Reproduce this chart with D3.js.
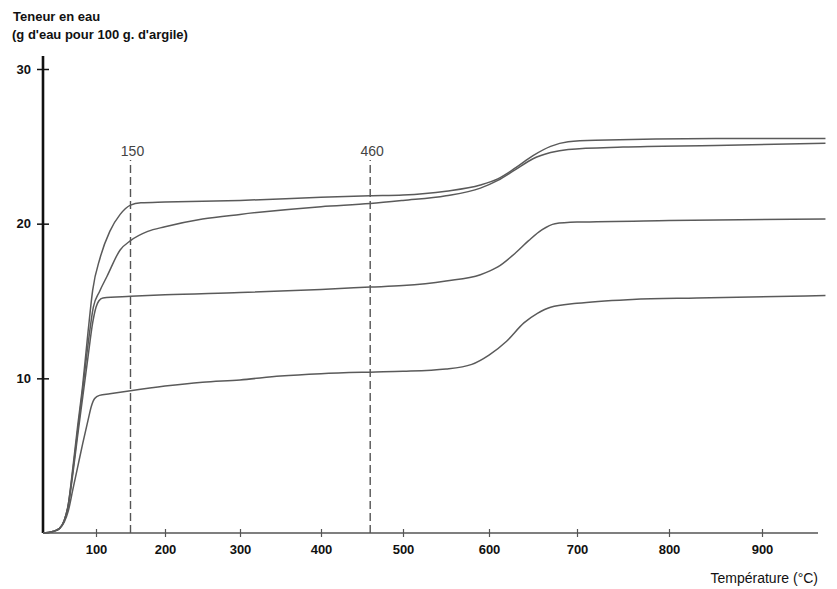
<!DOCTYPE html>
<html>
<head>
<meta charset="utf-8">
<script src="https://cdn.jsdelivr.net/npm/d3@7"></script>
<style>
  body { margin: 0; background: #fff; }
  text { font-family: "Liberation Sans", Arial, sans-serif; fill: #111; }
</style>
</head>
<body>
<div id="chart"></div>
<script>
// temperature (°C) / water content (g per 100 g clay)
const curve1 = [[20,0],[35,0.1],[45,0.3],[52,0.8],[58,1.8],[65,4.2],[72,6.8],[80,9.6],[88,13],[95,15.7],[106,17.8],[120,19.5],[135,20.6],[150,21.2],[165,21.35],[200,21.4],[300,21.5],[400,21.7],[460,21.8],[500,21.85],[550,22.1],[590,22.5],[610,22.9],[630,23.6],[650,24.4],[670,25.0],[690,25.3],[720,25.4],[850,25.5],[968,25.5]];
const curve2 = [[20,0],[35,0.1],[45,0.3],[52,0.8],[58,1.8],[65,4.0],[72,6.5],[80,9.3],[88,12.2],[96,14.6],[105,15.6],[116,16.6],[135,18.3],[150,18.9],[175,19.5],[200,19.8],[250,20.3],[300,20.6],[400,21.1],[460,21.3],[500,21.5],[550,21.8],[590,22.3],[610,22.8],[630,23.5],[650,24.2],[670,24.6],[690,24.8],[750,24.95],[850,25.05],[968,25.2]];
const curve3 = [[20,0],[35,0.1],[45,0.3],[52,0.8],[58,1.7],[65,3.8],[72,6.2],[80,8.8],[88,11.4],[95,13.6],[100,14.6],[104,15.0],[110,15.2],[150,15.3],[200,15.4],[300,15.55],[400,15.75],[460,15.9],[500,16.0],[550,16.3],[590,16.7],[610,17.2],[630,18.1],[645,18.9],[660,19.6],[675,20.0],[700,20.1],[800,20.2],[968,20.3]];
const curve4 = [[20,0],[35,0.1],[45,0.3],[52,0.7],[58,1.4],[65,2.8],[72,4.2],[80,5.8],[88,7.3],[93,8.2],[98,8.7],[105,8.9],[120,9.0],[150,9.2],[200,9.5],[250,9.75],[300,9.9],[350,10.15],[400,10.3],[460,10.4],[500,10.45],[550,10.6],[580,10.9],[600,11.5],[620,12.4],[640,13.6],[655,14.2],[670,14.6],[700,14.85],[760,15.1],[830,15.2],[968,15.35]];

const xTicks = [100,200,300,400,500,600,700,800,900];
const yTicks = [10,20,30];
const markers = [150, 460];

const W = 837, H = 589;

const svg = d3.select("#chart").append("svg")
  .attr("width", W).attr("height", H);

// the scanned temperature axis is not evenly spaced, so a polylinear scale
var x = d3.scaleLinear()
  .domain([20,100,200,300,400,500,600,700,800,900,960])
  .range([43,96,165,240,321,403,489,577,669,762,818]);

var y = d3.scaleLinear()
  .domain([0,30])
  .range([533,69]);

// axes
const yAxis = svg.append("g")
  .attr("transform", "translate(43,0)")
  .call(d3.axisLeft(y).tickValues(yTicks).tickSize(6).tickFormat(d3.format("d")));
yAxis.select(".domain").remove();
yAxis.selectAll(".tick line").attr("x1", 6).attr("x2", -6)
  .attr("stroke", "#111").attr("stroke-width", 1.5);
yAxis.selectAll(".tick text").attr("x", -12).attr("dy", "0.32em")
  .style("font-size", "13px").style("font-weight", "bold");

const xAxis = svg.append("g")
  .attr("transform", "translate(0,533)")
  .call(d3.axisBottom(x).tickValues(xTicks).tickSize(4).tickFormat(d3.format("d")));
xAxis.select(".domain").remove();
xAxis.selectAll(".tick line").attr("y1", -4).attr("y2", 4)
  .attr("stroke", "#555").attr("stroke-width", 1.2);
xAxis.selectAll(".tick text").attr("y", 12)
  .style("font-size", "13px").style("font-weight", "bold");

svg.append("line")
  .attr("x1", x(20)).attr("x2", x(960))
  .attr("y1", y(0)).attr("y2", y(0))
  .attr("stroke", "#555").attr("stroke-width", 1.6);

svg.append("line")
  .attr("x1", x(20)).attr("x2", x(20))
  .attr("y1", y(0)).attr("y2", 56)
  .attr("stroke", "#111").attr("stroke-width", 2.6);

// dashed reference lines
svg.selectAll(".marker")
  .data(markers)
  .enter()
  .append("line")
  .attr("x1", d => x(d)).attr("x2", d => x(d))
  .attr("y1", y(0)).attr("y2", 160)
  .attr("stroke", "#555").attr("stroke-width", 1.4)
  .attr("stroke-dasharray", "8,4");

svg.selectAll(".markerLabel")
  .data(markers)
  .enter()
  .append("text")
  .attr("x", d => x(d) + 2).attr("y", 156)
  .attr("text-anchor", "middle")
  .style("font-size", "14px")
  .style("fill", "#444")
  .text(d => d);

// curves
const line = d3.line()
  .x(d => x(d[0]))
  .y(d => y(d[1]))
  .curve(d3.curveMonotoneX);

svg.selectAll(".curve")
  .data([curve1, curve2, curve3, curve4])
  .enter()
  .append("path")
  .attr("d", line)
  .attr("fill", "none")
  .attr("stroke", "#5a5a5a")
  .attr("stroke-width", 1.5);

// titles
svg.append("text")
  .attr("x", 13).attr("y", 21)
  .style("font-size", "13px").style("font-weight", "bold")
  .text("Teneur en eau");
svg.append("text")
  .attr("x", 12).attr("y", 39)
  .style("font-size", "13px").style("font-weight", "bold")
  .text("(g d'eau pour 100 g. d'argile)");
svg.append("text")
  .attr("x", 818).attr("y", 583)
  .attr("text-anchor", "end")
  .style("font-size", "14px")
  .text("Température (°C)");
</script>
</body>
</html>
